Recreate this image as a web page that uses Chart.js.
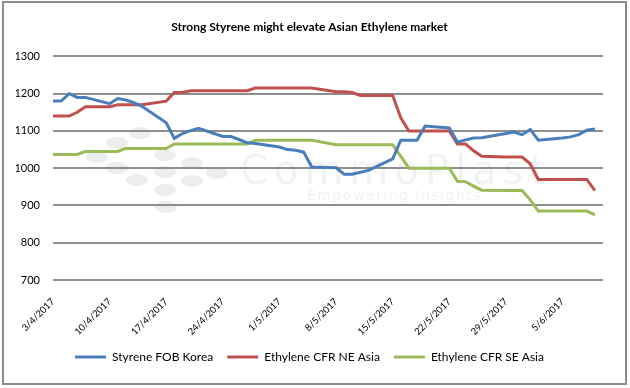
<!DOCTYPE html>
<html>
<head>
<meta charset="utf-8">
<script src="https://cdn.jsdelivr.net/npm/chart.js@4.4.0/dist/chart.umd.min.js"></script>
<style>
html,body{margin:0;padding:0;background:#fff;}
#wrap{width:630px;height:388px;position:relative;}
</style>
</head>
<body>
<div id="wrap"><canvas id="c" width="630" height="388"></canvas></div>
<script>
// Day offsets from 3/4/2017 (weekdays with a price)
const days = [0,1,2,3,4, 7,8,9,10,11, 14,15,16,17,18, 21,22,23,24,25, 28,29,30,31,32,
              35,36,37,38,39, 42,43,44,45,46, 49,50,51,52,53, 56,57,58,59,60, 63,64,65,66,67];
const tickLabels = ['3/4/2017','10/4/2017','17/4/2017','24/4/2017','1/5/2017','8/5/2017',
                    '15/5/2017','22/5/2017','29/5/2017','5/6/2017'];
const seriesNames = ['Styrene FOB Korea','Ethylene CFR NE Asia','Ethylene CFR SE Asia'];
const styreneFOBKorea = [1180,1180,1200,1190,1190, 1173,1187,1183,1176,1166, 1122,1080,1093,1101,1107,
                         1085,1085,1077,1068,1066, 1057,1050,1048,1043,1003, 1001,984,984,989,994,
                         1025,1075,1075,1075,1113, 1108,1070,1076,1081,1082, 1093,1097,1090,1104,1075,
                         1081,1084,1090,1102,1105];
const ethyleneNEAsia = [1140,1140,1140,1150,1165, 1165,1170,1170,1170,1170, 1180,1203,1203,1208,1208,
                        1208,1208,1208,1208,1215, 1215,1215,1215,1215,1215, 1205,1205,1203,1195,1195,
                        1195,1135,1100,1100,1100, 1100,1065,1065,1047,1032, 1030,1030,1030,1012,970,
                        970,970,970,970,940];
const ethyleneSEAsia = [1037,1037,1037,1037,1045, 1045,1045,1053,1053,1053, 1053,1065,1065,1065,1065,
                        1065,1065,1065,1065,1075, 1075,1075,1075,1075,1075, 1063,1063,1063,1063,1063,
                        1063,1032,1000,1000,1000, 1000,965,964,952,941, 940,940,940,915,885,
                        885,885,885,885,875];
const colors = ['#4A7EBB','#C0504D','#9BBB59'];

const FONT = 'Lato, "Liberation Sans", sans-serif';
const toXY = vals => days.map((d,i)=>({x:d, y:vals[i]}));

// Background frame and faint publisher watermark (decoration only)
const logoDots = [[140,133],[117,143],[97,157],[165,155],[117,168],[192,163],[217,173],
                  [137,180],[165,172],[192,181],[165,190],[166,207]];
const framePlugin = {
  id:'frame',
  beforeDraw(chart){
    const ctx = chart.ctx;
    ctx.save();
    ctx.fillStyle = '#fff';
    ctx.fillRect(0,0,chart.width,chart.height);
    ctx.fillStyle = '#eceeee';
    logoDots.forEach(([x,y])=>{ ctx.beginPath(); ctx.ellipse(x,y,11,6,0,0,Math.PI*2); ctx.fill(); });
    ctx.fillStyle = '#f1f2f2';
    ctx.textBaseline = 'alphabetic';
    ctx.textAlign = 'left';
    ctx.font = '40px "DejaVu Sans", sans-serif';
    ctx.letterSpacing = '6px';
    ctx.fillText('CommoPlast', 240, 184);
    ctx.font = '14px "DejaVu Sans", sans-serif';
    ctx.letterSpacing = '1.5px';
    ctx.fillText('Empowering Insights', 307, 200);
    ctx.letterSpacing = '0px';
    ctx.strokeStyle = '#8c8c8c';
    ctx.lineWidth = 2;
    ctx.strokeRect(3,2,623,382);
    ctx.restore();
  }
};

new Chart(document.getElementById('c'), {
  type:'line',
  data:{
    datasets:[styreneFOBKorea, ethyleneNEAsia, ethyleneSEAsia].map((v,i)=>({
      label: seriesNames[i],
      data: toXY(v),
      borderColor: colors[i],
      backgroundColor: colors[i],
      borderWidth: 3,
      pointRadius: 0,
      tension: 0,
      fill: false
    }))
  },
  options:{
    responsive:false,
    animation:false,
    devicePixelRatio:1,
    layout:{padding:{left:16,right:27,top:0,bottom:15}},
    plugins:{
      title:{display:true,text:'Strong Styrene might elevate Asian Ethylene market',
        color:'#000',font:{family:FONT,size:12,weight:'bold'},padding:{top:20,bottom:22}},
      legend:{position:'bottom',
        labels:{boxWidth:31,boxHeight:3,padding:14,color:'#000',font:{family:FONT,size:12},
          generateLabels(chart){
            const items = Chart.defaults.plugins.legend.labels.generateLabels(chart);
            items.forEach(it=>{it.lineWidth=0;});
            return items;
          }}},
      tooltip:{enabled:false}
    },
    scales:{
      x:{type:'linear',min:0,max:68,
        grid:{display:false},border:{display:false},
        afterBuildTicks(scale){ scale.ticks = scale.ticks.filter(t=>t.value%7===0 && t.value<=63); },
        afterFit(scale){ scale.height = 57; },
        ticks:{stepSize:7,autoSkip:false,maxRotation:45,minRotation:45,padding:8,
          color:'#000',font:{family:FONT,size:9.5},
          callback:(v)=> (v%7===0 && tickLabels[v/7]) ? tickLabels[v/7] : ''}
      },
      y:{min:700,max:1300,
        afterFit(scale){ scale.width = 37; },
        grid:{color:'#8e8e8e',lineWidth:2,drawTicks:false},
        border:{display:false},
        ticks:{stepSize:100,padding:13,color:'#000',font:{family:FONT,size:11},
          callback:(v)=> String(v)}
      }
    }
  },
  plugins:[framePlugin]
});
</script>
</body>
</html>
